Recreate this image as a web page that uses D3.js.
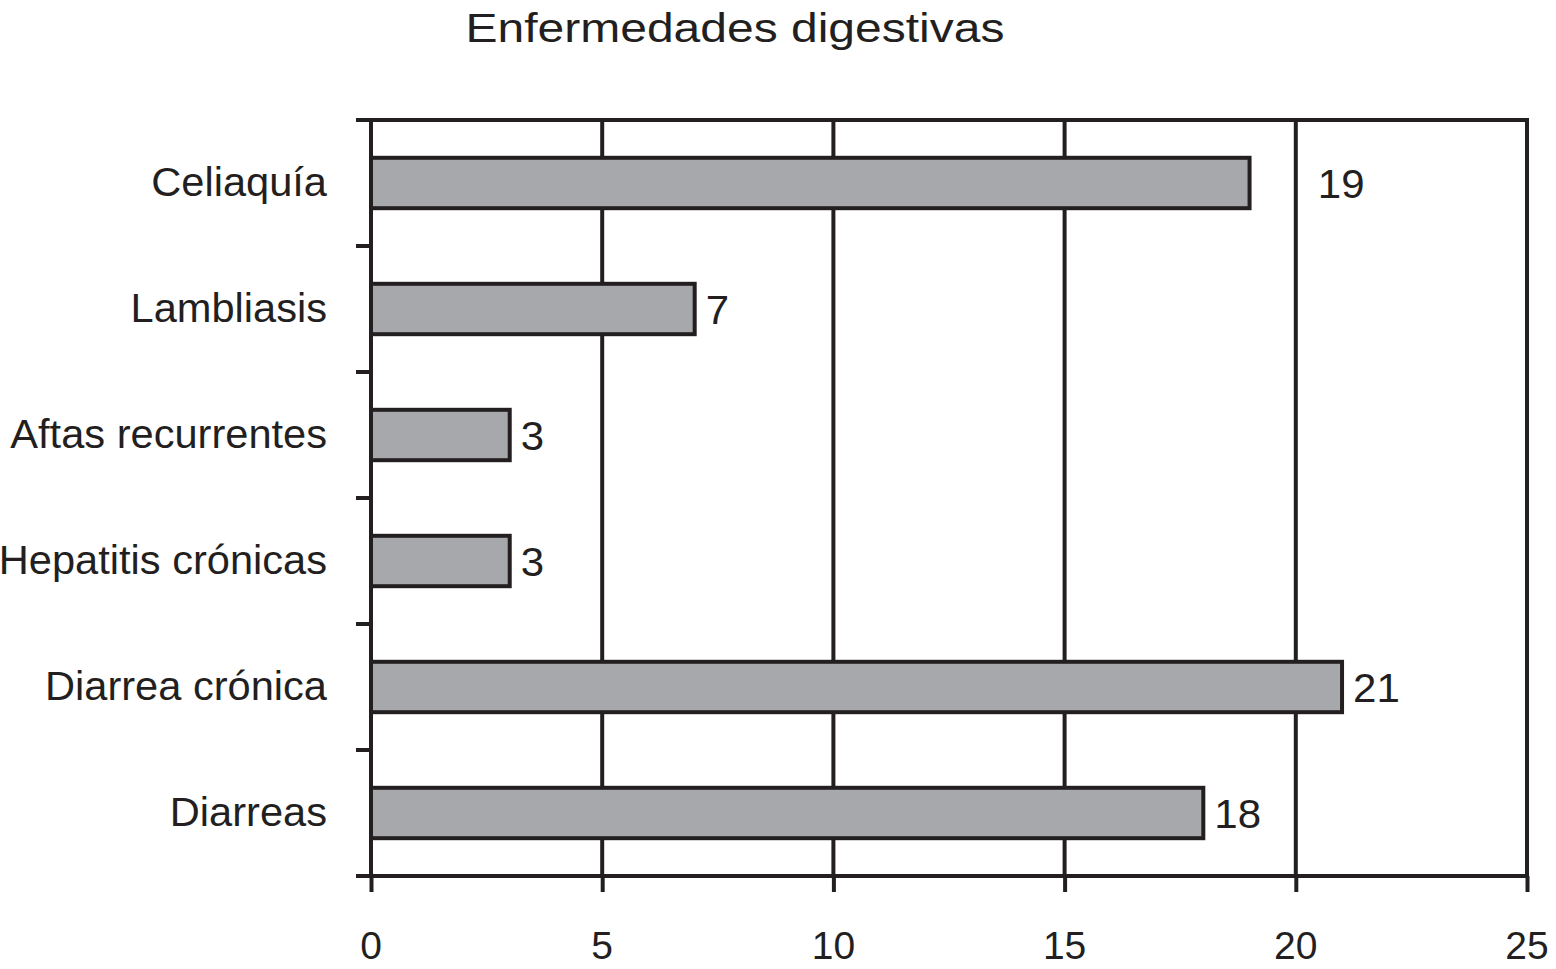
<!DOCTYPE html>
<html><head><meta charset="utf-8">
<script src="https://cdn.jsdelivr.net/npm/d3@7"></script>
<style>body{margin:0;background:#fff}</style>
</head><body>
<svg id="c" width="1556" height="969"></svg>
<script>
const categories = ["Celiaquía","Lambliasis","Aftas recurrentes","Hepatitis crónicas","Diarrea crónica","Diarreas"];
const values = [19,7,3,3,21,18];
const xTicks = [0,5,10,15,20,25];
const title = "Enfermedades digestivas";

const svg = d3.select("#c");
const ink = "#231f20";
const L=371, R=1527, T=120, B=876;
const font = "Liberation Sans, Arial, sans-serif";
const sw = 4;

const x = d3.scaleLinear().domain([0,25]).range([L,R]);
const y = d3.scaleBand().domain(categories).range([T,B]).paddingInner(0.6).paddingOuter(0.3);

function txt(g, tx, ty, s, size, sx, anchor){
  return g.append("text").attr("transform",`translate(${tx},${ty}) scale(${sx},1)`)
    .attr("text-anchor",anchor).attr("font-family",font).attr("font-size",size)
    .attr("fill",ink).text(s);
}

// grid
svg.append("g").selectAll("line").data(xTicks.slice(1,-1)).join("line")
  .attr("x1",d=>x(d)).attr("x2",d=>x(d)).attr("y1",T).attr("y2",B)
  .attr("stroke",ink).attr("stroke-width",sw);

// border
svg.append("rect").attr("x",L).attr("y",T).attr("width",R-L).attr("height",B-T)
  .attr("fill","none").attr("stroke",ink).attr("stroke-width",sw);

// bars
svg.append("g").selectAll("rect").data(values).join("rect")
  .attr("x",x(0)).attr("y",(d,i)=>y(categories[i]))
  .attr("width",d=>x(d)-x(0)).attr("height",y.bandwidth())
  .attr("fill","#a7a8ab").attr("stroke",ink).attr("stroke-width",sw);

// value labels (skip past a gridline if it would overlap)
const vg = svg.append("g");
values.forEach((d,i)=>{
  let lx = x(d) + 11;
  const w = String(d).length * 24;
  xTicks.forEach(t=>{ const gx = x(t); if (gx > lx-4 && gx < lx + w) lx = gx + 22; });
  txt(vg, lx, y(categories[i]) + y.bandwidth()/2 + 15, d, 40, 1.05, "start");
});

// x axis
const xa = svg.append("g").attr("transform",`translate(0,${B})`)
  .call(d3.axisBottom(x).tickValues(xTicks).tickSize(16).tickFormat("").tickSizeOuter(0));
xa.select(".domain").remove();
xa.selectAll("line").attr("stroke",ink).attr("stroke-width",sw);
const tg = svg.append("g");
xTicks.forEach(t=> txt(tg, x(t), 959, t, 39, 1.0, "middle"));

// y axis ticks at band boundaries
const bounds = d3.range(categories.length+1).map(i=>T + i*y.step());
svg.append("g").selectAll("line").data(bounds).join("line")
  .attr("x1",L-15).attr("x2",L).attr("y1",d=>d).attr("y2",d=>d)
  .attr("stroke",ink).attr("stroke-width",sw);

// category labels
const cg = svg.append("g");
categories.forEach(c=> txt(cg, 327, y(c)+y.bandwidth()/2+13, c, 40, 1.04, "end"));

// title
txt(svg, 735, 42, title, 40, 1.2, "middle");
</script>
</body></html>
